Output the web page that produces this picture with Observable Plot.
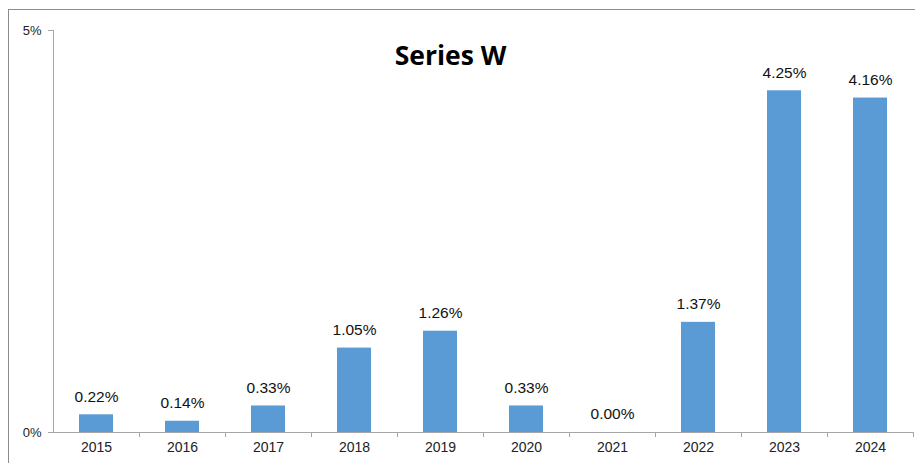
<!DOCTYPE html>
<html>
<head>
<meta charset="utf-8">
<script src="https://cdn.jsdelivr.net/npm/d3@7"></script>
<script src="https://cdn.jsdelivr.net/npm/@observablehq/plot@0.6"></script>
<style>
  html, body { margin: 0; padding: 0; background: #fff; }
  #chart { position: relative; width: 915px; height: 463px; }
</style>
</head>
<body>
<div id="chart"></div>
<script>
const title = "Series W";
const years = ["2015","2016","2017","2018","2019","2020","2021","2022","2023","2024"];
const values = [0.0022, 0.0014, 0.0033, 0.0105, 0.0126, 0.0033, 0.0000, 0.0137, 0.0425, 0.0416];
const yTicks = [0, 0.05];

const data = years.map((year, i) => ({year, value: values[i]}));
const fmtLabel = d3.format(".2%");
const axisColor = "#a6a6a6";

const plot = Plot.plot({
  width: 915,
  height: 463,
  marginLeft: 53,
  marginRight: 2,
  marginTop: 30,
  marginBottom: 31,
  style: {fontFamily: "'Liberation Sans', Arial, sans-serif", fontSize: "14px", color: "#222", background: "#fff"},
  x: {domain: years, paddingInner: 0.6, paddingOuter: 0.3, label: null},
  y: {domain: [0, 0.05], label: null},
  marks: [
    Plot.barY(data, {x: "year", y: "value", fill: "#5b9bd5"}),
    Plot.ruleY([0], {stroke: axisColor}),
    Plot.frame({anchor: "left", stroke: axisColor}),
    Plot.axisY({ticks: yTicks, tickFormat: d3.format(".0%"), tickSize: 5, tickPadding: 7, stroke: axisColor, fill: "#222", fontSize: 13, label: null}),
    Plot.axisX({tickSize: 0, tickPadding: 10, fill: "#222", fontSize: 14, label: null}),
    Plot.axisX({tickSize: 5, tickFormat: () => "", dx: 43, stroke: axisColor, label: null}),
    Plot.text(data, {x: "year", y: "value", text: d => fmtLabel(d.value), dy: -18, fontSize: 15.5, fill: "#111", letterSpacing: "0.6px"}),
    Plot.text([title], {frameAnchor: "top", dx: -33, dy: 16, text: d => d, fontSize: 26.5, fontWeight: "bold", fontFamily: "'Open Sans', sans-serif", fill: "#000"})
  ]
});
document.getElementById("chart").appendChild(plot);

// outer chart border
d3.select(plot).append("rect")
  .attr("x", 8.5).attr("y", 9.5).attr("width", 915).attr("height", 463)
  .attr("fill", "none").attr("stroke", "#8c8c8c");
</script>
</body>
</html>
